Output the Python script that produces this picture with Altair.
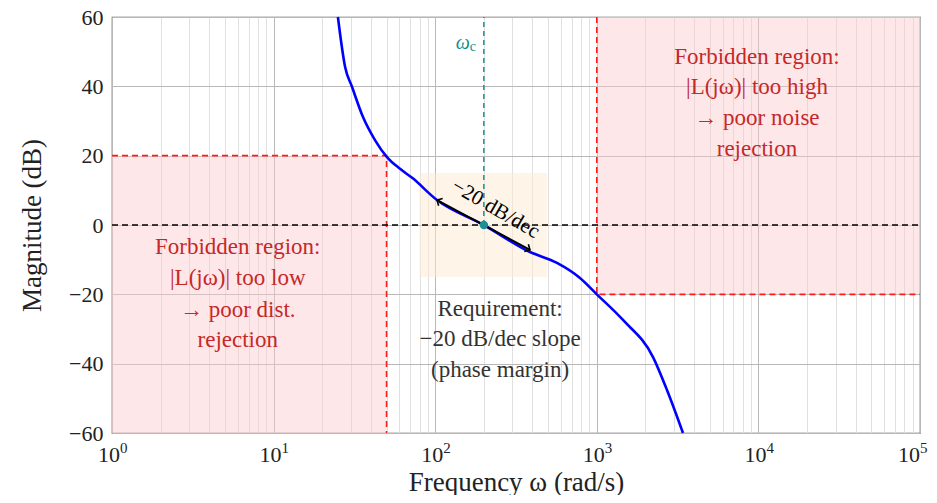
import altair as alt
import pandas as pd

# ---- data ----
curve_w = [25, 27.7, 30.6, 35.7, 42.4, 50.3, 60.6, 72.0, 102.6, 200, 386, 567, 787, 1000, 1452, 2228, 2718, 3415]
curve_db = [60, 45.6, 39.8, 31.2, 24.5, 19.6, 16.2, 13.6, 7.2, 0, -7.8, -10.95, -15.3, -20, -27.4, -38.1, -47.6, -60]

decades = [1, 10, 100, 1000, 10000, 100000]
decade_exp = ["0", "1", "2", "3", "4", "5"]
minor_ticks = [m * 10 ** k for k in range(5) for m in range(1, 10)] + [100000]
y_ticks = [-60, -40, -20, 0, 20, 40, 60]

wc = 200
slope_w = [102.6, 386]
slope_db = [7.2, -7.2]

# regions
low_region = {"x": 1, "x2": 50, "y": -60, "y2": 20}
high_region = {"x": 1000, "x2": 100000, "y": -20, "y2": 60}
req_region = {"x": 80, "x2": 492, "y": -15, "y2": 15}

left_text = ["Forbidden region:", "|L(jω)| too low", "→ poor dist.", "rejection"]
left_text_y = [-6.3, -15.3, -24.5, -33.2]
right_text = ["Forbidden region:", "|L(jω)| too high", "→ poor noise", "rejection"]
right_text_y = [48.5, 39.8, 30.9, 21.9]
mid_text = ["Requirement:", "−20 dB/dec slope", "(phase margin)"]
mid_text_y = [-24.2, -32.9, -41.8]

FONT = "Liberation Serif, DejaVu Serif, serif"
RED = "#ff1a1a"
TXT_RED = "#c62828"
TEAL = "#1a9090"
INK = "#222222"

xs = alt.Scale(type="log", domain=[1, 100000])
ys = alt.Scale(domain=[-60, 60])

major_test = "indexof([" + ",".join(str(d) for d in decades) + "], datum.value) >= 0"

X = lambda f, **kw: alt.X(f, type="quantitative", scale=xs, **kw)
Y = lambda f, **kw: alt.Y(f, type="quantitative", scale=ys, **kw)

curve_df = pd.DataFrame({"w": curve_w, "db": curve_db})

base_axis_x = alt.Axis(
    values=minor_ticks, labels=False,
    title="Frequency ω (rad/s)", grid=True,
    gridColor=alt.condition(major_test, alt.value("#b8b8b8"), alt.value("#e0e0e0")),
    gridWidth=1, ticks=False, domain=False,
    titleFontSize=27, titlePadding=57, titleBaseline="alphabetic",
)
base_axis_y = alt.Axis(
    values=y_ticks, title="Magnitude (dB)", grid=True, gridColor="#b8b8b8",
    ticks=False, domain=False, labelPadding=9, labelFontSize=22,
    titleFontSize=27, titlePadding=22,
)

def rect(reg, color, opacity):
    df = pd.DataFrame([reg])
    return alt.Chart(df).mark_rect(color=color, opacity=opacity).encode(
        x=X("x", axis=base_axis_x), x2="x2", y=Y("y", axis=base_axis_y), y2="y2")

low_fill = rect(low_region, "#fcc9cf", 0.45)
high_fill = rect(high_region, "#fcc9cf", 0.45)
req_fill = rect(req_region, "#fde9d2", 0.5)

def seg(xv, yv, color, dash, width=1.6):
    df = pd.DataFrame({"x": xv, "y": yv, "o": list(range(len(xv)))})
    return alt.Chart(df).mark_line(color=color, strokeDash=dash, strokeWidth=width).encode(
        x=X("x"), y=Y("y"), order="o")

low_border = seg([1, 50, 50], [20, 20, -60], RED, [6, 4])
high_border = seg([1000, 1000, 100000], [60, -20, -20], RED, [6, 4])
zero_line = seg([1, 100000], [0, 0], "black", [6, 4], 1.5)
wc_line = seg([wc, wc], [0, 60], TEAL, [5, 4], 1.5)

curve = alt.Chart(curve_df).mark_line(color="#0000ff", strokeWidth=2.6, interpolate="monotone").encode(
    x=X("w"), y=Y("db"))

slope_df = pd.DataFrame({"x": slope_w, "y": slope_db, "ang": [209, 29]})
slope_line = alt.Chart(slope_df).mark_line(color="black", strokeWidth=2).encode(x=X("x"), y=Y("y"))
heads = alt.Chart(slope_df).mark_point(
    shape="M -1 -1 L 0 0 L -1 1", filled=False, color="black", size=70, strokeWidth=1.6, opacity=1
).encode(x=X("x"), y=Y("y"), angle=alt.Angle("ang:Q", scale=None))

dot = alt.Chart(pd.DataFrame({"x": [wc], "y": [0]})).mark_circle(color=TEAL, size=70, opacity=1).encode(
    x=X("x"), y=Y("y"))

def texts(lines, xv, yv, color, size=23):
    df = pd.DataFrame({"t": lines, "x": [xv] * len(lines), "y": yv})
    return alt.Chart(df).mark_text(font=FONT, fontSize=size, color=color, align="center",
                                   baseline="middle").encode(x=X("x"), y=Y("y"), text="t")

left_lbl = texts(left_text, 6.0, left_text_y, TXT_RED)
right_lbl = texts(right_text, 9800, right_text_y, TXT_RED)
mid_lbl = texts(mid_text, 252, mid_text_y, "#333333")

slope_lbl = alt.Chart(pd.DataFrame({"x": [236], "y": [4.6], "t": ["−20 dB/dec"]})).mark_text(
    font=FONT, fontSize=21, angle=30, color="black", align="center", baseline="middle"
).encode(x=X("x"), y=Y("y"), text="t")

wc_df = pd.DataFrame({"x": [wc], "y": [52.5]})
wc_lbl1 = alt.Chart(wc_df).mark_text(font=FONT, fontSize=20, fontStyle="italic", color=TEAL,
                                     align="right", dx=-14, baseline="middle").encode(
    x=X("x"), y=Y("y"), text=alt.value("ω"))
wc_lbl2 = alt.Chart(wc_df).mark_text(font=FONT, fontSize=14, color=TEAL,
                                     align="left", dx=-14, dy=4, baseline="middle").encode(
    x=X("x"), y=Y("y"), text=alt.value("c"))

# x tick labels: "10" with superscript exponent (last one nudged to stay inside the page)
def tick_labels(ds, es, shift):
    df = pd.DataFrame({"x": ds, "y": [-60] * len(ds), "e": es})
    base = alt.Chart(df).mark_text(font=FONT, fontSize=22, color=INK, align="right",
                                   baseline="alphabetic", dx=8 + shift, dy=29).encode(
        x=X("x"), y=Y("y"), text=alt.value("10"))
    exp = alt.Chart(df).mark_text(font=FONT, fontSize=15, color=INK, align="left",
                                  baseline="alphabetic", dx=8 + shift, dy=20).encode(
        x=X("x"), y=Y("y"), text="e")
    return [base, exp]

ticks_main = tick_labels(decades[:-1], decade_exp[:-1], 0)
ticks_last = tick_labels(decades[-1:], decade_exp[-1:], -8)

chart = alt.layer(
    low_fill, high_fill, req_fill, low_border, high_border, zero_line, wc_line,
    curve, slope_line, heads, dot, left_lbl, right_lbl, mid_lbl, slope_lbl, wc_lbl1, wc_lbl2,
    *ticks_main, *ticks_last
).properties(
    width=808, height=416,
    autosize=alt.AutoSizeParams(type="none"),
    padding={"left": 104, "top": 9, "right": 9, "bottom": 62},
).configure_view(stroke="#555555", strokeWidth=1.2).configure_axis(
    labelFont=FONT, titleFont=FONT, labelColor=INK, titleColor=INK,
    titleFontWeight="normal",
)

chart.save("out.html", embed_options={"renderer": "svg", "actions": False})
